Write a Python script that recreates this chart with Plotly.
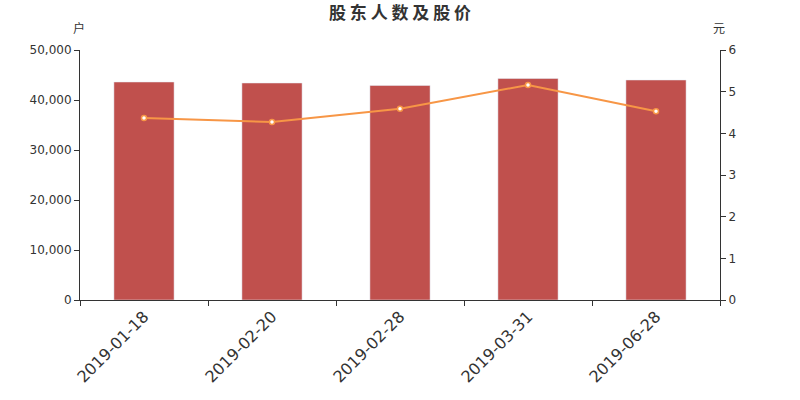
import plotly.graph_objects as go

dates = ["2019-01-18", "2019-02-20", "2019-02-28", "2019-03-31", "2019-06-28"]
holders = [43600, 43400, 42900, 44300, 44000]
prices = [4.37, 4.27, 4.59, 5.16, 4.53]
title_text = "股东人数及股价"

fig = go.Figure()
fig.add_trace(go.Bar(x=dates, y=holders, marker_color="#c0504d", width=0.47,
                     name="股东人数"))
fig.add_trace(go.Scatter(x=dates, y=prices, yaxis="y2", mode="lines+markers",
                         line=dict(color="#f79646", width=2),
                         marker=dict(size=5, color="white",
                                     line=dict(color="#f79646", width=1.5)),
                         name="股价"))

font = "DejaVu Sans, Noto Sans CJK SC, sans-serif"
pw, ph = 800 - 160, 400 - 150
fig.update_layout(
    width=800, height=400,
    margin=dict(l=80, r=80, t=50, b=100),
    plot_bgcolor="white", paper_bgcolor="white",
    showlegend=False,
    font=dict(family=font, color="#333"),
    title=dict(text=" ".join(title_text), x=0.5, xanchor="center",
               y=1 - 13.5 / 400, yanchor="middle",
               font=dict(size=17, color="#333", family="Noto Sans CJK SC", weight=600)),
    xaxis=dict(type="category", showline=True, linecolor="#333", linewidth=1,
               ticks="outside", tickson="boundaries", ticklen=5, tickcolor="#333",
               tickangle=-45, tickfont=dict(size=16, color="#333"),
               showgrid=False, range=[-0.5, 4.5], automargin=False),
    yaxis=dict(range=[0, 50000], dtick=10000, tickformat=",d", showline=True,
               linecolor="#333", ticks="outside", ticklen=5, tickcolor="#333",
               showgrid=False, zeroline=False, tickfont=dict(size=12, color="#333"),
               automargin=False),
    yaxis2=dict(range=[0, 6], dtick=1, overlaying="y", side="right", showline=True,
                linecolor="#333", ticks="outside", ticklen=5, tickcolor="#333",
                showgrid=False, zeroline=False, tickfont=dict(size=12, color="#333"),
                automargin=False),
    annotations=[
        dict(text="户", x=(79 - 80) / pw, y=(300 - 28) / ph, xref="paper", yref="paper",
             xanchor="center", yanchor="middle", showarrow=False,
             font=dict(size=12, color="#333", family="Noto Sans CJK SC")),
        dict(text="元", x=(719 - 80) / pw, y=(300 - 28) / ph, xref="paper", yref="paper",
             xanchor="center", yanchor="middle", showarrow=False,
             font=dict(size=12, color="#333", family="Noto Sans CJK SC")),
    ],
)

fig.write_html("out.html", config={"displayModeBar": False},
               post_script="document.body.style.margin='0';")
